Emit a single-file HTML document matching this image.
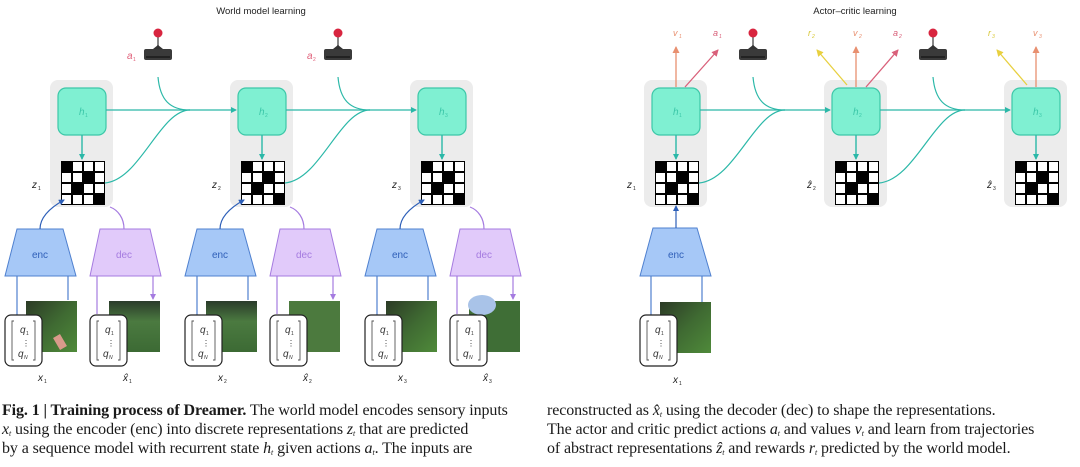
<!DOCTYPE html>
<html><head><meta charset="utf-8">
<style>
html,body{margin:0;padding:0;background:#fff;width:1080px;height:467px;overflow:hidden}
svg{display:block}
.cap{position:absolute;font-family:"Liberation Serif",serif;font-size:16px;line-height:18.8px;color:#1a1a1a;letter-spacing:-0.1px;white-space:nowrap}
.cap i{font-style:italic}
.cap sub{font-size:8px;line-height:0;vertical-align:-2px}
</style></head><body>
<svg width="1080" height="467" viewBox="0 0 1080 467" xmlns="http://www.w3.org/2000/svg" font-family="Liberation Sans, sans-serif">
<defs>
<marker id="at" markerWidth="6" markerHeight="6" refX="5" refY="3" orient="auto" markerUnits="userSpaceOnUse"><path d="M0,0 L6,3 L0,6 z" fill="#2bb8a8"/></marker>
<marker id="ab" markerWidth="6" markerHeight="6" refX="5" refY="3" orient="auto" markerUnits="userSpaceOnUse"><path d="M0,0 L6,3 L0,6 z" fill="#2d5fb8"/></marker>
<marker id="ap" markerWidth="6" markerHeight="6" refX="5" refY="3" orient="auto" markerUnits="userSpaceOnUse"><path d="M0,0 L6,3 L0,6 z" fill="#a57be0"/></marker>
<marker id="ao" markerWidth="7" markerHeight="7" refX="6" refY="3.5" orient="auto" markerUnits="userSpaceOnUse"><path d="M0,0 L7,3.5 L0,7 z" fill="#e89070"/></marker>
<marker id="ar" markerWidth="7" markerHeight="7" refX="6" refY="3.5" orient="auto" markerUnits="userSpaceOnUse"><path d="M0,0 L7,3.5 L0,7 z" fill="#d9607a"/></marker>
<marker id="ay" markerWidth="7" markerHeight="7" refX="6" refY="3.5" orient="auto" markerUnits="userSpaceOnUse"><path d="M0,0 L7,3.5 L0,7 z" fill="#e8d040"/></marker>
<g id="cell">
<rect x="0" y="0" width="63" height="127" rx="8" fill="#ececec"/>
<rect x="8" y="8" width="48" height="47" rx="8" fill="#7ff0d2" stroke="#3cc7a8" stroke-width="1.2"/>
<line x1="32" y1="55" x2="32" y2="79" stroke="#2bb8a8" stroke-width="1.4" marker-end="url(#at)"/>
<g transform="translate(11,81)">
<rect width="44" height="44" fill="#000"/>
<g fill="#fff">
<rect x="12" y="1" width="9" height="9"/><rect x="23" y="1" width="9" height="9"/><rect x="34" y="1" width="9" height="9"/>
<rect x="1" y="12" width="9" height="9"/><rect x="12" y="12" width="9" height="9"/><rect x="34" y="12" width="9" height="9"/>
<rect x="1" y="23" width="9" height="9"/><rect x="23" y="23" width="9" height="9"/><rect x="34" y="23" width="9" height="9"/>
<rect x="1" y="34" width="9" height="9"/><rect x="12" y="34" width="9" height="9"/><rect x="23" y="34" width="9" height="9"/>
</g></g>
</g>
<g id="joy">
<line x1="0" y1="-10" x2="0" y2="2" stroke="#888" stroke-width="2"/>
<circle cx="0" cy="-12" r="4.5" fill="#d8253f"/>
<path d="M-5,4 L0,0 L5,4 z" fill="#333"/>
<rect x="-14" y="4" width="28" height="11" rx="2" fill="#3a3a3a"/>
<rect x="-12" y="11" width="24" height="2" fill="#222"/>
</g>
<g id="qbox">
<rect x="0" y="0" width="37" height="51" rx="6" fill="#fff" stroke="#222" stroke-width="1.2"/>
<path d="M9,6 h-2 v39 h2 M28,6 h2 v39 h-2" fill="none" stroke="#555" stroke-width="0.9"/>
<text x="15" y="18" font-size="10" font-style="italic" fill="#333">q</text>
<text x="21" y="20" font-size="5" fill="#333">1</text>
<text x="17" y="31" font-size="8" fill="#333">⋮</text>
<text x="13" y="42" font-size="10" font-style="italic" fill="#333">q</text>
<text x="19" y="44" font-size="5" font-style="italic" fill="#333">N</text>
</g>
<linearGradient id="g1" x1="0" y1="0" x2="1" y2="1"><stop offset="0" stop-color="#2c3a26"/><stop offset="0.5" stop-color="#3f6a32"/><stop offset="1" stop-color="#4f8a3a"/></linearGradient>
<linearGradient id="g2" x1="0" y1="0" x2="0" y2="1"><stop offset="0" stop-color="#2a3b2a"/><stop offset="0.4" stop-color="#4b7a40"/><stop offset="1" stop-color="#3c6a34"/></linearGradient>
</defs>

<text x="261" y="14" font-size="9.5" text-anchor="middle" fill="#222">World model learning</text>
<text x="855" y="14" font-size="9.5" text-anchor="middle" fill="#222">Actor–critic learning</text>

<use href="#cell" x="50" y="80"/><use href="#cell" x="230" y="80"/><use href="#cell" x="410" y="80"/>
<text x="79" y="115" font-size="10" font-style="italic" fill="#3cc7a8">h</text><text x="85" y="117" font-size="5" fill="#3cc7a8">1</text>
<text x="259" y="115" font-size="10" font-style="italic" fill="#3cc7a8">h</text><text x="265" y="117" font-size="5" fill="#3cc7a8">2</text>
<text x="439" y="115" font-size="10" font-style="italic" fill="#3cc7a8">h</text><text x="445" y="117" font-size="5" fill="#3cc7a8">3</text>
<text x="32" y="188" font-size="10" font-style="italic" fill="#222">z</text><text x="38" y="190" font-size="5" fill="#222">1</text>
<text x="212" y="188" font-size="10" font-style="italic" fill="#222">z</text><text x="218" y="190" font-size="5" fill="#222">2</text>
<text x="392" y="188" font-size="10" font-style="italic" fill="#222">z</text><text x="398" y="190" font-size="5" fill="#222">3</text>

<use href="#joy" x="158" y="45"/><use href="#joy" x="338" y="45"/>
<text x="127" y="59" font-size="10" font-style="italic" fill="#e0607a">a</text><text x="133" y="61" font-size="5" fill="#e0607a">1</text>
<text x="307" y="59" font-size="10" font-style="italic" fill="#e0607a">a</text><text x="313" y="61" font-size="5" fill="#e0607a">2</text>

<g fill="none" stroke="#2bb8a8" stroke-width="1.2">
<path d="M106,110 H236" marker-end="url(#at)"/>
<path d="M158,77 C160,100 170,110 190,110"/>
<path d="M105,183 C140,180 160,110 190,110"/>
<path d="M286,110 H416" marker-end="url(#at)"/>
<path d="M338,77 C340,100 350,110 370,110"/>
<path d="M285,183 C320,180 340,110 370,110"/>
</g>

<g id="encdec">
<path d="M17,229 H63 L76,276 H5 z" fill="#a6c8f7" stroke="#4f80cf" stroke-width="1"/>
<text x="40" y="258" font-size="10" text-anchor="middle" fill="#2f5fb8">enc</text>
<path d="M40,229 C40,215 55,205 64,200" fill="none" stroke="#2d5fb8" stroke-width="1.2" marker-end="url(#ab)"/>
<path d="M17,276 V316 M68,276 V300" fill="none" stroke="#4f80cf" stroke-width="1.2"/>
<path d="M100,229 H150 L161,276 H90 z" fill="#e1cafa" stroke="#a57be0" stroke-width="1"/>
<text x="124" y="258" font-size="10" text-anchor="middle" fill="#a57be0">dec</text>
<path d="M124,229 C124,218 118,210 110,207" fill="none" stroke="#a57be0" stroke-width="1.2"/>
<path d="M97,276 V314 M153,276 V299" fill="none" stroke="#a57be0" stroke-width="1.2" marker-end="url(#ap)"/>
</g>
<use href="#encdec" x="180" y="0"/><use href="#encdec" x="360" y="0"/>

<rect x="26" y="301" width="51" height="51" fill="url(#g1)"/>
<rect x="109" y="301" width="51" height="51" fill="url(#g2)"/>
<rect x="206" y="301" width="51" height="51" fill="url(#g2)"/>
<rect x="289" y="301" width="51" height="51" fill="#4c7a3e"/>
<rect x="386" y="301" width="51" height="51" fill="url(#g1)"/>
<rect x="469" y="301" width="51" height="51" fill="#3f6e36"/>
<ellipse cx="482" cy="305" rx="14" ry="10" fill="#a9c3e8"/>
<rect x="56" y="335" width="8" height="14" fill="#d99a8a" transform="rotate(-30 60 342)"/>
<use href="#qbox" x="5" y="315"/><use href="#qbox" x="90" y="315"/>
<use href="#qbox" x="185" y="315"/><use href="#qbox" x="270" y="315"/>
<use href="#qbox" x="365" y="315"/><use href="#qbox" x="450" y="315"/>
<g font-size="10" font-style="italic" fill="#222">
<text x="38" y="381">x</text><text x="44" y="383" font-size="5" font-style="normal">1</text>
<text x="123" y="381">x̂</text><text x="129" y="383" font-size="5" font-style="normal">1</text>
<text x="218" y="381">x</text><text x="224" y="383" font-size="5" font-style="normal">2</text>
<text x="303" y="381">x̂</text><text x="309" y="383" font-size="5" font-style="normal">2</text>
<text x="398" y="381">x</text><text x="404" y="383" font-size="5" font-style="normal">3</text>
<text x="483" y="381">x̂</text><text x="489" y="383" font-size="5" font-style="normal">3</text>
</g>

<use href="#cell" x="644" y="80"/><use href="#cell" x="824" y="80"/><use href="#cell" x="1004" y="80"/>
<text x="673" y="115" font-size="10" font-style="italic" fill="#3cc7a8">h</text><text x="679" y="117" font-size="5" fill="#3cc7a8">1</text>
<text x="853" y="115" font-size="10" font-style="italic" fill="#3cc7a8">h</text><text x="859" y="117" font-size="5" fill="#3cc7a8">2</text>
<text x="1033" y="115" font-size="10" font-style="italic" fill="#3cc7a8">h</text><text x="1039" y="117" font-size="5" fill="#3cc7a8">3</text>
<text x="627" y="188" font-size="10" font-style="italic" fill="#222">z</text><text x="633" y="190" font-size="5" fill="#222">1</text>
<text x="807" y="188" font-size="10" font-style="italic" fill="#222">ẑ</text><text x="813" y="190" font-size="5" fill="#222">2</text>
<text x="987" y="188" font-size="10" font-style="italic" fill="#222">ẑ</text><text x="993" y="190" font-size="5" fill="#222">3</text>

<use href="#joy" x="753" y="45"/><use href="#joy" x="933" y="45"/>
<g fill="none" stroke="#2bb8a8" stroke-width="1.2">
<path d="M700,110 H830" marker-end="url(#at)"/>
<path d="M753,77 C755,100 765,110 785,110"/>
<path d="M699,183 C735,180 755,110 785,110"/>
<path d="M880,110 H1010" marker-end="url(#at)"/>
<path d="M933,77 C935,100 945,110 965,110"/>
<path d="M879,183 C915,180 935,110 965,110"/>
</g>
<g fill="none" stroke-width="1.3">
<path d="M676,87 V47" stroke="#e89070" marker-end="url(#ao)"/>
<path d="M685,87 L718,50" stroke="#d9607a" marker-end="url(#ar)"/>
<path d="M847,85 L817,50" stroke="#e8d040" marker-end="url(#ay)"/>
<path d="M856,87 V47" stroke="#e89070" marker-end="url(#ao)"/>
<path d="M866,87 L898,50" stroke="#d9607a" marker-end="url(#ar)"/>
<path d="M1027,85 L997,50" stroke="#e8d040" marker-end="url(#ay)"/>
<path d="M1036,87 V47" stroke="#e89070" marker-end="url(#ao)"/>
</g>
<g font-size="9" font-style="italic">
<text x="673" y="36" fill="#e89070">v</text><text x="679" y="38" font-size="5" fill="#e89070">1</text>
<text x="713" y="36" fill="#d9607a">a</text><text x="719" y="38" font-size="5" fill="#d9607a">1</text>
<text x="808" y="36" fill="#d8c838">r</text><text x="812" y="38" font-size="5" fill="#d8c838">2</text>
<text x="853" y="36" fill="#e89070">v</text><text x="859" y="38" font-size="5" fill="#e89070">2</text>
<text x="893" y="36" fill="#d9607a">a</text><text x="899" y="38" font-size="5" fill="#d9607a">2</text>
<text x="988" y="36" fill="#d8c838">r</text><text x="992" y="38" font-size="5" fill="#d8c838">3</text>
<text x="1033" y="36" fill="#e89070">v</text><text x="1039" y="38" font-size="5" fill="#e89070">3</text>
</g>
<path d="M653,228 H697 L711,276 H640 z" fill="#a6c8f7" stroke="#4f80cf" stroke-width="1"/>
<text x="676" y="258" font-size="10" text-anchor="middle" fill="#2f5fb8">enc</text>
<path d="M676,228 V206" stroke="#2d5fb8" stroke-width="1.2" marker-end="url(#ab)"/>
<path d="M651,276 V316 M702,276 V302" fill="none" stroke="#4f80cf" stroke-width="1.2"/>
<rect x="660" y="302" width="51" height="51" fill="url(#g1)"/>
<use href="#qbox" x="640" y="315"/>
<text x="673" y="383" font-size="10" font-style="italic" fill="#222">x</text><text x="679" y="385" font-size="5" fill="#222">1</text>
</svg>
<div class="cap" style="left:2px;top:402px"><b>Fig. 1 | Training process of Dreamer.</b> The world model encodes sensory inputs<br><i>x<sub>t</sub></i> using the encoder (enc) into discrete representations <i>z<sub>t</sub></i> that are predicted<br>by a sequence model with recurrent state <i>h<sub>t</sub></i> given actions <i>a<sub>t</sub></i>. The inputs are</div>
<div class="cap" style="left:547px;top:402px">reconstructed as <i>x̂<sub>t</sub></i> using the decoder (dec) to shape the representations.<br>The actor and critic predict actions <i>a<sub>t</sub></i> and values <i>v<sub>t</sub></i> and learn from trajectories<br>of abstract representations <i>ẑ<sub>t</sub></i> and rewards <i>r<sub>t</sub></i> predicted by the world model.</div>
</body></html>
